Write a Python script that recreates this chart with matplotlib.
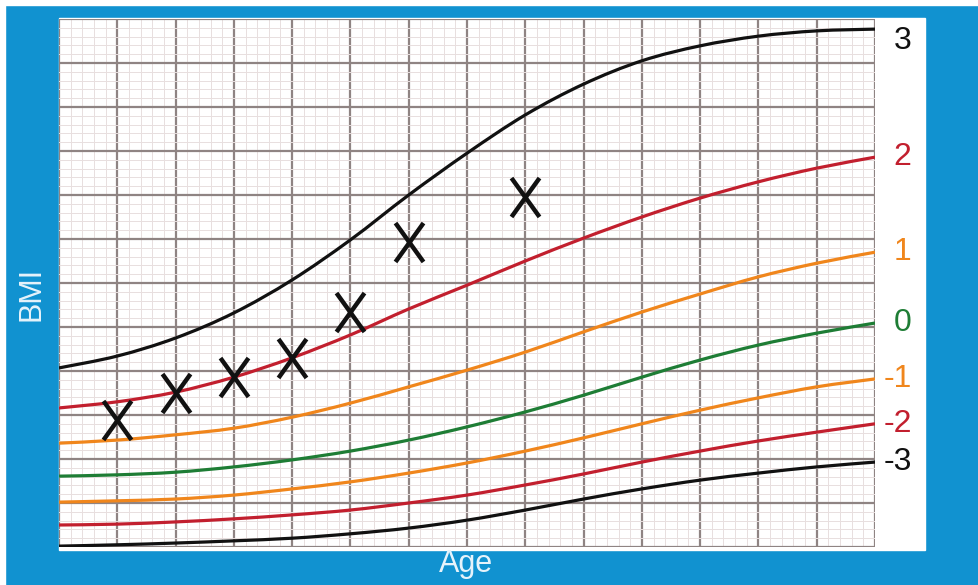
import matplotlib
matplotlib.use('Agg')
import matplotlib.pyplot as plt
from matplotlib.path import Path
from matplotlib.patches import Rectangle, PathPatch

# ages (grid units) where the centile curves were read
age = list(range(15))

# z-score curves, values in grid units (bottom of chart = 0)
z_p3 = [4.07, 4.34, 4.75, 5.32, 6.07, 6.98, 8.00, 8.95, 9.82, 10.52, 11.05, 11.39, 11.61, 11.73, 11.77]
z_p2 = [3.16, 3.30, 3.52, 3.86, 4.30, 4.82, 5.41, 5.95, 6.50, 7.02, 7.50, 7.93, 8.30, 8.61, 8.86]
z_p1 = [2.36, 2.43, 2.55, 2.70, 2.95, 3.27, 3.64, 4.02, 4.43, 4.89, 5.34, 5.75, 6.14, 6.45, 6.70]
z_0 = [1.61, 1.64, 1.70, 1.82, 1.98, 2.18, 2.43, 2.73, 3.07, 3.45, 3.86, 4.25, 4.59, 4.86, 5.09]
z_m1 = [1.02, 1.05, 1.09, 1.18, 1.32, 1.48, 1.68, 1.91, 2.18, 2.48, 2.80, 3.11, 3.39, 3.64, 3.82]
z_m2 = [0.50, 0.52, 0.57, 0.64, 0.73, 0.84, 1.00, 1.18, 1.41, 1.66, 1.93, 2.18, 2.41, 2.61, 2.80]
z_m3 = [0.02, 0.05, 0.09, 0.14, 0.20, 0.30, 0.43, 0.61, 0.84, 1.09, 1.32, 1.52, 1.68, 1.82, 1.93]

curve_labels = ['3', '2', '1', '0', '-1', '-2', '-3']

# measured child
child_age = [1, 2, 3, 4, 5, 6, 8]
child_bmi = [2.89, 3.50, 3.86, 4.30, 5.34, 6.93, 7.95]

BLUE = '#1192d0'
BLACK = '#111111'
RED = '#c21f2e'
ORANGE = '#f0861c'
GREEN = '#1e7d35'


def smooth_path(xs, ys):
    # catmull-rom through the read points, drawn as bezier segments
    pts = list(zip(xs, ys))
    verts = [pts[0]]
    codes = [Path.MOVETO]
    n = len(pts)
    for i in range(n - 1):
        p0 = pts[max(i - 1, 0)]
        p1 = pts[i]
        p2 = pts[i + 1]
        p3 = pts[min(i + 2, n - 1)]
        c1 = (p1[0] + (p2[0] - p0[0]) / 6, p1[1] + (p2[1] - p0[1]) / 6)
        c2 = (p2[0] - (p3[0] - p1[0]) / 6, p2[1] - (p3[1] - p1[1]) / 6)
        verts += [c1, c2, p2]
        codes += [Path.CURVE4] * 3
    return Path(verts, codes)


fig = plt.figure(figsize=(9.79, 5.85), dpi=100)
fig.patch.set_facecolor(BLUE)
# thin white border on left / top of the original scan
fig.patches.append(Rectangle((0, 0), 5 / 979, 1, transform=fig.transFigure, color='white', zorder=-5))
fig.patches.append(Rectangle((0, 1 - 5 / 585), 1, 5 / 585, transform=fig.transFigure, color='white', zorder=-5))
# white chart panel
fig.patches.append(Rectangle((59 / 979, 35 / 585), 866 / 979, 532 / 585,
                             transform=fig.transFigure, color='white', zorder=-5))

ax = fig.add_axes([59 / 979, 38 / 585, 816 / 979, 528 / 585])
ax.set_zorder(5)
ax.set_facecolor('none')
ax.set_xlim(0, 14)
ax.set_ylim(0, 12)
ax.set_xticks(range(15))
ax.set_yticks(range(13))
ax.set_xticks([i / 5 for i in range(71)], minor=True)
ax.set_yticks([i / 5 for i in range(61)], minor=True)
ax.grid(which='minor', color='#e8dfdf', lw=0.7, zorder=1)
ax.grid(which='major', color='#8f8483', lw=1.6, zorder=2)
ax.set_axisbelow(True)
ax.tick_params(which='both', length=0, labelbottom=False, labelleft=False)
for s in ax.spines.values():
    s.set_visible(False)

curves = [z_p3, z_p2, z_p1, z_0, z_m1, z_m2, z_m3]
colors = [BLACK, RED, ORANGE, GREEN, ORANGE, RED, BLACK]
for vals, c, lab in zip(curves, colors, curve_labels):
    ax.add_patch(PathPatch(smooth_path(age, vals), fill=False, edgecolor=c, lw=2.3,
                           capstyle='butt', zorder=3))
    ax.text(14.63, min(vals[-1], 11.5), lab, color=c, fontsize=23, family='Liberation Sans',
            ha='right', va='center', clip_on=False)

cross = Path([(-0.36, 0.5), (0.36, -0.5), (0.36, 0.5), (-0.36, -0.5)],
             [Path.MOVETO, Path.LINETO, Path.MOVETO, Path.LINETO])
ax.plot(child_age, child_bmi, ls='none', marker=cross, markersize=28, mew=3.2,
        mec=BLACK, zorder=4, clip_on=False)

fig.text(32 / 979, 1 - 294 / 585, 'BMI', color='#e6f3fb', fontsize=22, family='Liberation Sans',
         rotation=90, ha='center', va='center')
fig.text(466 / 979, 1 - 564 / 585, 'Age', color='#e6f3fb', fontsize=22, family='Liberation Sans',
         ha='center', va='center')

fig.savefig('out.png', dpi=100, facecolor=fig.get_facecolor())
